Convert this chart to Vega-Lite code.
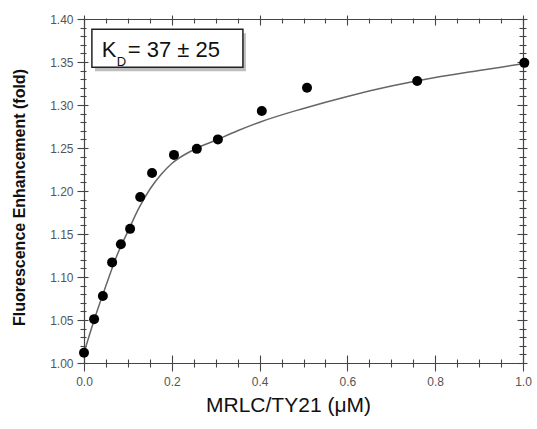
{
  "$schema": "https://vega.github.io/schema/vega-lite/v6.json",
  "width": 439,
  "height": 344,
  "autosize": "none",
  "padding": {"left": 84, "top": 19, "right": 14, "bottom": 66},
  "background": "white",
  "datasets": {
    "curve": [
      {"x": 0, "y": 1.012}, {"x": 0.025, "y": 1.053}, {"x": 0.05, "y": 1.09}, {"x": 0.075, "y": 1.125},
      {"x": 0.1, "y": 1.153}, {"x": 0.125, "y": 1.18}, {"x": 0.15, "y": 1.202}, {"x": 0.175, "y": 1.219},
      {"x": 0.2, "y": 1.232}, {"x": 0.25, "y": 1.248}, {"x": 0.3, "y": 1.259}, {"x": 0.35, "y": 1.27},
      {"x": 0.4, "y": 1.28}, {"x": 0.5, "y": 1.296}, {"x": 0.6, "y": 1.31}, {"x": 0.7, "y": 1.322},
      {"x": 0.8, "y": 1.332}, {"x": 0.9, "y": 1.34}, {"x": 1.0, "y": 1.348}
    ],
    "dots": [
      {"x": 0, "y": 1.012}, {"x": 0.023, "y": 1.051}, {"x": 0.043, "y": 1.078}, {"x": 0.064, "y": 1.117},
      {"x": 0.084, "y": 1.138}, {"x": 0.105, "y": 1.156}, {"x": 0.128, "y": 1.193}, {"x": 0.155, "y": 1.221},
      {"x": 0.205, "y": 1.242}, {"x": 0.257, "y": 1.249}, {"x": 0.305, "y": 1.26}, {"x": 0.405, "y": 1.293},
      {"x": 0.508, "y": 1.32}, {"x": 0.759, "y": 1.328}, {"x": 1.003, "y": 1.349}
    ]
  },
  "config": {
    "view": {"stroke": null},
    "axis": {
      "grid": false,
      "domainColor": "#444",
      "domainWidth": 1.2,
      "tickColor": "#444",
      "tickWidth": 1.1,
      "labelFlush": false,
      "labelOverlap": false,
      "labelFont": "Liberation Sans",
      "labelFontSize": 12,
      "labelColor": "#555",
      "titleFont": "Liberation Sans",
      "titleColor": "#111"
    }
  },
  "resolve": {"axis": {"x": "independent", "y": "independent"}},
  "layer": [
    {
      "data": {"name": "curve"},
      "mark": {"type": "line", "interpolate": "monotone", "stroke": "#666", "strokeWidth": 1.5},
      "encoding": {
        "x": {"field": "x", "type": "quantitative", "scale": {"domain": [0, 1], "nice": false},
          "axis": {"orient": "bottom", "values": [0, 0.2, 0.4, 0.6, 0.8, 1.0], "format": ".1f", "tickSize": 8, "labelPadding": 5,
            "title": "MRLC/TY21 (μM)", "titleFontSize": 21, "titleFontWeight": "normal", "titleX": 204, "titleY": 42,
            "titleBaseline": "middle", "titleAlign": "center"}},
        "y": {"field": "y", "type": "quantitative", "scale": {"domain": [1, 1.4], "nice": false, "zero": false},
          "axis": {"orient": "left", "values": [1.0, 1.05, 1.1, 1.15, 1.2, 1.25, 1.3, 1.35, 1.4], "format": ".2f", "tickSize": 7, "labelPadding": 4,
            "title": "Fluorescence Enhancement (fold)", "titleFontSize": 16, "titleFontWeight": "bold", "titleX": -65, "titleY": 178,
            "titleAngle": -90, "titleBaseline": "middle", "titleAlign": "center"}}
      }
    },
    {
      "data": {"name": "dots"},
      "mark": {"type": "point", "filled": true, "color": "#000", "opacity": 1, "size": 100},
      "encoding": {
        "x": {"field": "x", "type": "quantitative",
          "axis": {"orient": "bottom", "values": [0, 0.2, 0.4, 0.6, 0.8, 1.0], "tickSize": -8, "labels": false, "domain": false, "title": null}},
        "y": {"field": "y", "type": "quantitative",
          "axis": {"orient": "left", "values": [1.0, 1.05, 1.1, 1.15, 1.2, 1.25, 1.3, 1.35, 1.4], "tickSize": -4, "labels": false, "domain": false, "title": null}}
      }
    },
    {
      "data": {"name": "dots"},
      "mark": {"type": "point", "opacity": 0},
      "encoding": {
        "x": {"field": "x", "type": "quantitative",
          "axis": {"orient": "bottom", "values": [0.05, 0.1, 0.15, 0.25, 0.3, 0.35, 0.45, 0.5, 0.55, 0.65, 0.7, 0.75, 0.85, 0.9, 0.95], "tickSize": 4, "labels": false, "domain": false, "title": null}},
        "y": {"field": "y", "type": "quantitative",
          "axis": {"orient": "left", "values": [1.01, 1.02, 1.03, 1.04, 1.06, 1.07, 1.08, 1.09, 1.11, 1.12, 1.13, 1.14, 1.16, 1.17, 1.18, 1.19, 1.21, 1.22, 1.23, 1.24, 1.26, 1.27, 1.28, 1.29, 1.31, 1.32, 1.33, 1.34, 1.36, 1.37, 1.38, 1.39], "tickSize": 4, "labels": false, "domain": false, "title": null}}
      }
    },
    {
      "data": {"name": "dots"},
      "mark": {"type": "point", "opacity": 0},
      "encoding": {
        "x": {"field": "x", "type": "quantitative",
          "axis": {"orient": "bottom", "values": [0.05, 0.1, 0.15, 0.25, 0.3, 0.35, 0.45, 0.5, 0.55, 0.65, 0.7, 0.75, 0.85, 0.9, 0.95], "tickSize": -4, "labels": false, "domain": false, "title": null}},
        "y": {"field": "y", "type": "quantitative",
          "axis": {"orient": "left", "values": [1.01, 1.02, 1.03, 1.04, 1.06, 1.07, 1.08, 1.09, 1.11, 1.12, 1.13, 1.14, 1.16, 1.17, 1.18, 1.19, 1.21, 1.22, 1.23, 1.24, 1.26, 1.27, 1.28, 1.29, 1.31, 1.32, 1.33, 1.34, 1.36, 1.37, 1.38, 1.39], "tickSize": -2, "labels": false, "domain": false, "title": null}}
      }
    },
    {
      "data": {"name": "dots"},
      "mark": {"type": "point", "opacity": 0},
      "encoding": {
        "x": {"field": "x", "type": "quantitative",
          "axis": {"orient": "top", "values": [0, 0.2, 0.4, 0.6, 0.8, 1.0], "tickSize": -6, "labels": false, "domain": true, "title": null}},
        "y": {"field": "y", "type": "quantitative",
          "axis": {"orient": "right", "values": [1.0, 1.05, 1.1, 1.15, 1.2, 1.25, 1.3, 1.35, 1.4], "tickSize": -6, "labels": false, "domain": true, "title": null}}
      }
    },
    {
      "data": {"name": "dots"},
      "mark": {"type": "point", "opacity": 0},
      "encoding": {
        "x": {"field": "x", "type": "quantitative",
          "axis": {"orient": "top", "values": [0, 0.2, 0.4, 0.6, 0.8, 1.0], "tickSize": 4, "labels": false, "domain": false, "title": null}},
        "y": {"field": "y", "type": "quantitative",
          "axis": {"orient": "right", "values": [1.0, 1.05, 1.1, 1.15, 1.2, 1.25, 1.3, 1.35, 1.4], "tickSize": 4, "labels": false, "domain": false, "title": null}}
      }
    },
    {
      "data": {"name": "dots"},
      "mark": {"type": "point", "opacity": 0},
      "encoding": {
        "x": {"field": "x", "type": "quantitative",
          "axis": {"orient": "top", "values": [0.05, 0.1, 0.15, 0.25, 0.3, 0.35, 0.45, 0.5, 0.55, 0.65, 0.7, 0.75, 0.85, 0.9, 0.95], "tickSize": -4, "labels": false, "domain": false, "title": null}},
        "y": {"field": "y", "type": "quantitative",
          "axis": {"orient": "right", "values": [1.01, 1.02, 1.03, 1.04, 1.06, 1.07, 1.08, 1.09, 1.11, 1.12, 1.13, 1.14, 1.16, 1.17, 1.18, 1.19, 1.21, 1.22, 1.23, 1.24, 1.26, 1.27, 1.28, 1.29, 1.31, 1.32, 1.33, 1.34, 1.36, 1.37, 1.38, 1.39], "tickSize": -4, "labels": false, "domain": false, "title": null}}
      }
    },
    {
      "data": {"name": "dots"},
      "mark": {"type": "point", "opacity": 0},
      "encoding": {
        "x": {"field": "x", "type": "quantitative",
          "axis": {"orient": "top", "values": [0.05, 0.1, 0.15, 0.25, 0.3, 0.35, 0.45, 0.5, 0.55, 0.65, 0.7, 0.75, 0.85, 0.9, 0.95], "tickSize": 1, "labels": false, "domain": false, "title": null}},
        "y": {"field": "y", "type": "quantitative",
          "axis": {"orient": "right", "values": [1.01, 1.02, 1.03, 1.04, 1.06, 1.07, 1.08, 1.09, 1.11, 1.12, 1.13, 1.14, 1.16, 1.17, 1.18, 1.19, 1.21, 1.22, 1.23, 1.24, 1.26, 1.27, 1.28, 1.29, 1.31, 1.32, 1.33, 1.34, 1.36, 1.37, 1.38, 1.39], "tickSize": 3, "labels": false, "domain": false, "title": null}}
      }
    },
    {
      "data": {"values": [{}]},
      "mark": {"type": "rect", "fill": "#888", "opacity": 0.55, "xOffset": 3, "x2Offset": 3, "yOffset": 4, "y2Offset": 4},
      "encoding": {
        "x": {"datum": 0.018, "type": "quantitative", "axis": null},
        "x2": {"datum": 0.362},
        "y": {"datum": 1.388, "type": "quantitative", "axis": null},
        "y2": {"datum": 1.344}
      }
    },
    {
      "data": {"values": [{}]},
      "mark": {"type": "rect", "fill": "white", "stroke": "#222", "strokeWidth": 1.5},
      "encoding": {
        "x": {"datum": 0.018, "type": "quantitative", "axis": null},
        "x2": {"datum": 0.362},
        "y": {"datum": 1.388, "type": "quantitative", "axis": null},
        "y2": {"datum": 1.344}
      }
    },
    {
      "data": {"values": [{"t": "K"}]},
      "mark": {"type": "text", "align": "left", "baseline": "alphabetic", "fontSize": 22, "font": "Liberation Sans", "color": "#111"},
      "encoding": {
        "text": {"field": "t"},
        "x": {"datum": 0.0403, "type": "quantitative", "axis": null},
        "y": {"datum": 1.3562, "type": "quantitative", "axis": null}
      }
    },
    {
      "data": {"values": [{"t": "D"}]},
      "mark": {"type": "text", "align": "left", "baseline": "alphabetic", "fontSize": 13, "font": "Liberation Sans", "color": "#111", "dx": 15, "dy": 9},
      "encoding": {
        "text": {"field": "t"},
        "x": {"datum": 0.0403, "type": "quantitative", "axis": null},
        "y": {"datum": 1.3562, "type": "quantitative", "axis": null}
      }
    },
    {
      "data": {"values": [{"t": "= 37 ± 25"}]},
      "mark": {"type": "text", "align": "left", "baseline": "alphabetic", "fontSize": 22, "font": "Liberation Sans", "color": "#111", "dx": 26},
      "encoding": {
        "text": {"field": "t"},
        "x": {"datum": 0.0403, "type": "quantitative", "axis": null},
        "y": {"datum": 1.3562, "type": "quantitative", "axis": null}
      }
    }
  ]
}
